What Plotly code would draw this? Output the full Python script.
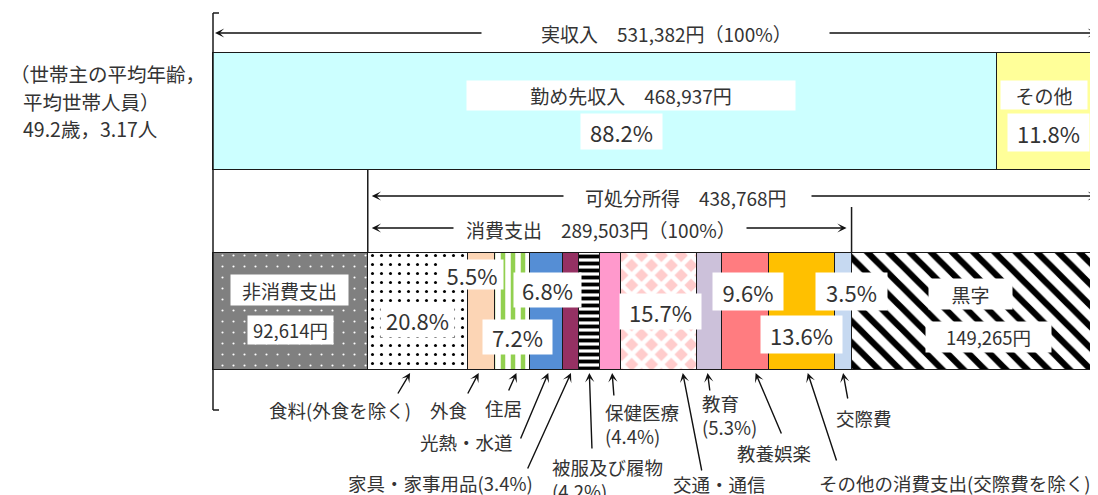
import plotly.graph_objects as go

# ---- data (円, %) ----
income_total = 531382
income_names = ['勤め先収入', 'その他']
income_values = [468937, 62445]
income_pct = [88.2, 11.8]

nonconsumption = 92614
consumption = 289503
surplus = 149265
disposable = 438768

cons_names = ['食料(外食を除く)', '外食', '住居', '光熱・水道', '家具・家事用品', '被服及び履物',
              '保健医療', '交通・通信', '教育', '教養娯楽', 'その他の消費支出(交際費を除く)', '交際費']
cons_pct = [20.8, 5.5, 7.2, 6.8, 3.4, 4.2, 4.4, 15.7, 5.3, 9.6, 13.6, 3.5]

age = '49.2'
members = '3.17'

# ---- styles ----
FONT = 'Noto Sans CJK JP'
TXT = '#333333'
EDGE = '#1a1a1a'


def pat(shape, fg, bg, size, solidity):
    return dict(shape=shape, fgcolor=fg, bgcolor=bg, size=size, solidity=solidity, fgopacity=1)


cons_styles = [
    dict(color='white', pattern=pat('.', 'black', 'white', 9, 0.09)),
    dict(color='#FCD5B5'),
    dict(color='white', pattern=pat('|', '#92D050', 'white', 10, 0.45)),
    dict(color='#558ED5'),
    dict(color='#953163'),
    dict(color='white', pattern=pat('-', 'black', 'white', 7, 0.55)),
    dict(color='#FF99CC'),
    dict(color='#FFCCCC', pattern=pat('x', 'white', '#FFCCCC', 14, 0.55)),
    dict(color='#CCC1DA'),
    dict(color='#FF7C80'),
    dict(color='#FFC000'),
    dict(color='#C6D9F1'),
]

# page pixel <-> yen scale (income bar ~888 px wide, starting at 213 px on the page)
X0 = 213
PPY = 888 / income_total
BODY = 8  # default page margin of the html body


def xp(p):
    return (p - X0) / PPY


def dx(p):
    return p / PPY


TOP_Y, BOT_Y, BAR_W = 111.5, 311.5, 117

fig = go.Figure()


def add_seg(value, ycen, marker):
    m = dict(marker)
    m['line'] = dict(color=EDGE, width=1.5)
    fig.add_trace(go.Bar(x=[value], y=[ycen], width=[BAR_W], orientation='h', marker=m,
                         showlegend=False, hoverinfo='skip'))


add_seg(income_values[0], TOP_Y, dict(color='#CCFFFF'))
add_seg(income_values[1], TOP_Y, dict(color='#FFFF99'))

add_seg(nonconsumption, BOT_Y, dict(color='#808080', pattern=pat('.', 'white', '#808080', 11, 0.03)))
cons_values = [consumption * p / 100 for p in cons_pct]
for v, st in zip(cons_values, cons_styles):
    add_seg(v, BOT_Y, st)
add_seg(surplus, BOT_Y, dict(color='white', pattern=pat('\\', 'black', 'white', 15, 0.42)))

# segment centres (yen)
inc_start = [0, income_values[0]]
inc_mid = [s + v / 2 for s, v in zip(inc_start, income_values)]
cons_start = []
acc = nonconsumption
for v in cons_values:
    cons_start.append(acc)
    acc += v
cons_mid = [s + v / 2 for s, v in zip(cons_start, cons_values)]
cons_end = nonconsumption + consumption

ann = []


def box(text, x, y, w, h, size=20):
    ann.append(dict(text=text, x=x, y=y, xref='x', yref='y', showarrow=False, bgcolor='white',
                    borderpad=3, width=w - 6, height=h - 6, font=dict(size=size, color=TXT)))


def label(text, x, y, size=18, xanchor='center', align='center'):
    ann.append(dict(text=text, x=x, y=y, xref='x', yref='y', showarrow=False, xanchor=xanchor,
                    align=align, font=dict(size=size, color=TXT)))


def arrow(hx, hy, tx, ty, head=3, standoff=0):
    ann.append(dict(text='', x=hx, y=hy, ax=tx, ay=ty, xref='x', yref='y', axref='x', ayref='y',
                    showarrow=True, arrowhead=head, arrowsize=1.1, arrowwidth=1.4, arrowcolor='#111',
                    standoff=standoff))


# income labels
box(f'{income_names[0]}　{income_values[0]:,}円', inc_mid[0] + dx(26), 95, 328, 29, 19)
box(f'{income_pct[0]}%', inc_mid[0] + dx(17), 131, 81, 35, 22)
box(income_names[1], inc_mid[1] - dx(5), 95, 86, 28, 19)
box(f'{income_pct[1]}%', inc_mid[1], 132, 81, 37, 22)

# bottom bar labels
box('非消費支出', nonconsumption / 2 - dx(1), 290, 117, 30, 19)
box(f'{nonconsumption:,}円', nonconsumption / 2, 330, 85, 28, 18.5)
pct_offsets = {0: (-1, 320, 73, 34), 1: (-10, 274, 62, 29), 2: (5, 337, 69, 34), 3: (1, 290, 67, 34),
               7: (2, 311, 81, 35), 9: (2, 291, 70, 37), 10: (0, 334, 81, 37), 11: (8, 291, 71, 37)}
for i, (off, yy, w, h) in pct_offsets.items():
    box(f'{cons_pct[i]}%', cons_mid[i] + dx(off), yy, w, h, 22)
sur_mid = cons_end + surplus / 2
box('黒字', sur_mid - dx(6), 294, 83, 30, 19)
box(f'{surplus:,}円', sur_mid + dx(12), 337, 125, 30, 18.5)

# headline arrows
label(f'実収入　{income_total:,}円（100%）', xp(666), 33, 19)
arrow(0, 33, xp(483), 33, standoff=2)
arrow(income_total, 33, xp(828), 33, standoff=4)
label(f'可処分所得　{disposable:,}円', xp(686), 197, 19)
arrow(nonconsumption, 196, xp(565), 196, standoff=4)
arrow(income_total, 196, xp(810), 196, standoff=4)
label(f'消費支出　{consumption:,}円（100%）', xp(601), 229, 19)
arrow(nonconsumption, 228, xp(455), 228, standoff=4)
arrow(cons_end, 228, xp(745), 228, standoff=5)

# household info
label('（世帯主の平均年齢，', xp(8), 73, 19.5, 'left')
label('平均世帯人員）', xp(21), 101, 19.5, 'left')
label(f'{age}歳，{members}人', xp(21), 128, 19.5, 'left')

# category labels under the bar: (show pct, label x px, label y px, anchor, tail x px, tail y px, head offset px)
cat_layout = [
    (False, 340, 410, 'center', 397, 395, -8),
    (False, 448, 410, 'center', 467, 395, -3),
    (False, 503, 408, 'center', 508, 392, 4),
    (False, 466, 442, 'center', 520, 440, 2),
    ('inline', 440, 483, 'center', 527, 470, 0),
    ('below', 550, 479, 'left', 592, 450, 0),
    ('below', 603, 424, 'left', 614, 397, 2),
    (False, 719, 484, 'center', 702, 472, 24),
    ('below', 700, 415, 'left', 710, 392, -2),
    (False, 774, 453, 'center', 782, 435, 10),
    (False, 955, 483, 'center', 837, 462, 6),
    (False, 864, 418, 'center', 848, 400, 0),
]
for name, pct, mid, (show, lx, ly, anc, tx, ty, hoff) in zip(cons_names, cons_pct, cons_mid, cat_layout):
    if show == 'inline':
        txt = f'{name}({pct}%)'
    elif show == 'below':
        txt = f'{name}<br>({pct}%)'
    else:
        txt = name
    label(txt, xp(lx), ly, 18.5, anc, 'left' if anc == 'left' else 'center')
    arrow(mid + dx(hoff), 373, xp(tx), ty, head=3)

line = dict(color=EDGE, width=1.5)
shapes = [
    dict(type='line', x0=0, x1=0, y0=13, y1=410, line=line),
    dict(type='line', x0=0, x1=dx(6), y0=13, y1=13, line=line),
    dict(type='line', x0=0, x1=dx(6), y0=410, y1=410, line=line),
    dict(type='line', x0=nonconsumption, x1=nonconsumption, y0=170, y1=253, line=line),
    dict(type='line', x0=cons_end, x1=cons_end, y0=207, y1=253, line=line),
]

# the figure sits BODY px inside the page, so axes are set up in page pixels
fig.update_layout(
    width=1098 - BODY, height=495 - BODY,
    margin=dict(l=0, r=0, t=0, b=0),
    barmode='stack', bargap=0,
    paper_bgcolor='white', plot_bgcolor='white',
    font=dict(family=FONT, color=TXT),
    xaxis=dict(range=[xp(BODY), xp(1098)], visible=False, fixedrange=True),
    yaxis=dict(range=[495, BODY], visible=False, fixedrange=True),
    annotations=ann, shapes=shapes,
)

fig.write_html('out.html')
